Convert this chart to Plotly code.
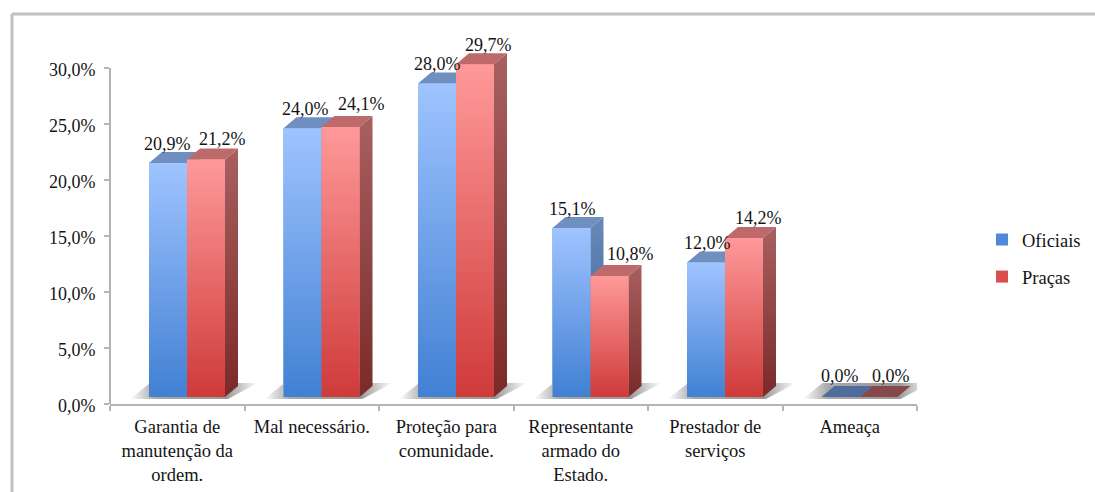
import plotly.graph_objects as go

categories = ["Garantia de<br>manutenção da<br>ordem.", "Mal necessário.", "Proteção para<br>comunidade.",
              "Representante<br>armado do<br>Estado.", "Prestador de<br>serviços", "Ameaça"]
oficiais = [20.9, 24.0, 28.0, 15.1, 12.0, 0.0]
pracas = [21.2, 24.1, 29.7, 10.8, 14.2, 0.0]
y_ticks = [0, 5, 10, 15, 20, 25, 30]
y_tick_labels = ["0,0%", "5,0%", "10,0%", "15,0%", "20,0%", "25,0%", "30,0%"]

W, H = 1095, 492
L, R, T, B = 110, 917, 30, 404
PX_X = (R - L) / 6
PX_Y = 11.2
y_top = (B - T) / PX_Y
bw = 38 / PX_X
depth_x = 13 / PX_X
depth_y = 11 / PX_Y
floor = 7 / PX_Y
off_b = -0.21
off_r = off_b + bw

FONT = "Liberation Serif"
TXT = "#141414"
AX = "#b4b4b4"
BORDER = "#c0c0c0"

def poly(xs, ys, scale=None, orient="vertical", color=None):
    kw = dict(x=xs + xs[:1], y=ys + ys[:1], mode="lines", line=dict(width=0),
              fill="toself", hoverinfo="skip", showlegend=False, cliponaxis=False)
    if scale:
        kw["fillgradient"] = dict(type=orient, colorscale=scale)
        kw["fillcolor"] = "rgba(0,0,0,0)"
    else:
        kw["fillcolor"] = color
    return go.Scatter(**kw)

fig = go.Figure()

# real bars carry the values and the legend
for name, vals, off, col in [("Oficiais", oficiais, off_b, "#4f8ad8"), ("Praças", pracas, off_r, "#d94f4f")]:
    fig.add_trace(go.Bar(x=list(range(6)), y=vals, base=floor, name=name, width=bw, offset=off,
                         marker=dict(color=col, line=dict(width=0)), legendgroup=name, cliponaxis=False))

# floor shadows
SHADOW = [[0, "#ffffff"], [0.2, "#a8a8a8"], [0.75, "#989898"], [1, "#ffffff"]]
for i in range(6):
    x0 = i + off_b
    x1 = i + off_r + bw
    fig.add_trace(poly([x0 - 19 / PX_X, x0 + 1 / PX_X, x1 + 33 / PX_X, x1 + 3 / PX_X],
                       [floor - 2 / PX_Y, floor + 14 / PX_Y, floor + 14 / PX_Y, floor - 2 / PX_Y],
                       scale=SHADOW, orient="horizontal"))

STY = {
    "b": dict(front=("#4180d3", "#9fc4ff"), side=("#2c5a96", "#6a8ab8"), top="#6f8fc0", zero="#4f6d9c"),
    "r": dict(front=("#cf3a3a", "#ff9999"), side=("#7a2a28", "#a86060"), top="#bf6a6a", zero="#86484a"),
}

for vals, off, key in [(oficiais, off_b, "b"), (pracas, off_r, "r")]:
    s = STY[key]
    for i, v in enumerate(vals):
        x0, x1 = i + off, i + off + bw
        y0, y1 = floor, floor + v
        fig.add_trace(poly([x0, x1, x1 + depth_x, x0 + depth_x],
                           [y1, y1, y1 + depth_y, y1 + depth_y],
                           color=s["top"] if v > 0 else s["zero"]))
        if v > 0:
            fig.add_trace(poly([x1, x1 + depth_x, x1 + depth_x, x1],
                               [y0, y0 + depth_y, y1 + depth_y, y1],
                               scale=[[0, s["side"][0]], [1, s["side"][1]]]))
            fig.add_trace(poly([x0, x1, x1, x0], [y0, y0, y1, y1],
                               scale=[[0, s["front"][0]], [1, s["front"][1]]]))

# data labels
shift_b = [-1, 3, 0, 1, 1, -1]
shift_r = [16, 21, 13, 21, 14, 12]
lift_b = [19, 19, 19, 19, 20, 21]
lift_r = [21, 23, 19, 22, 20, 21]
for vals, off, sh, lf in [(oficiais, off_b, shift_b, lift_b), (pracas, off_r, shift_r, lift_r)]:
    for i, v in enumerate(vals):
        fig.add_annotation(x=i + off + bw / 2, y=floor + v, text=f"{v:.1f}%".replace(".", ","),
                           showarrow=False, xshift=sh[i], yshift=lf[i], yanchor="middle",
                           font=dict(family=FONT, size=18, color=TXT))

pw, ph = R - L, B - T
fig.update_layout(
    width=W, height=H, autosize=False,
    margin=dict(l=L, r=W - R, t=T, b=H - B, pad=0, autoexpand=False),
    paper_bgcolor="white", plot_bgcolor="white",
    barmode="overlay",
    font=dict(family=FONT, size=18, color=TXT),
    xaxis=dict(range=[-0.5, 5.5], tickmode="array", tickvals=list(range(6)),
               ticktext=categories, ticks="", ticklabelstandoff=5, automargin=False,
               tickfont=dict(family=FONT, size=18.5, color=TXT),
               showgrid=False, zeroline=False, showline=True, linecolor=AX, linewidth=2,
               minor=dict(tickmode="array", tickvals=[i - 0.5 for i in range(7)], ticks="outside",
                          ticklen=5, tickcolor=AX, tickwidth=2, showgrid=False)),
    yaxis=dict(range=[0, y_top], tickmode="array", tickvals=y_ticks, ticktext=y_tick_labels,
               ticks="outside", ticklen=5, tickcolor=AX, tickwidth=2, ticklabelstandoff=5,
               ticklabelshift=2, automargin=False,
               tickfont=dict(family=FONT, size=18, color=TXT),
               showgrid=False, zeroline=False, showline=False),
    showlegend=True,
    legend=dict(x=(982 - L) / pw, y=(B - 221) / ph, xanchor="left", yanchor="top", tracegroupgap=10,
                font=dict(family=FONT, size=18.5, color=TXT), bgcolor="rgba(0,0,0,0)", itemwidth=30),
    shapes=[
        dict(type="line", xref="paper", yref="y", x0=0, x1=0, y0=0, y1=30, line=dict(color=AX, width=2)),
        dict(type="line", xref="paper", yref="paper", x0=(12 - L) / pw, x1=(12 - L) / pw,
             y0=(B - H) / ph, y1=(B - 14) / ph, line=dict(color=BORDER, width=3)),
        dict(type="line", xref="paper", yref="paper", x0=(12 - L) / pw, x1=(W - L) / pw,
             y0=(B - 14) / ph, y1=(B - 14) / ph, line=dict(color=BORDER, width=3)),
    ],
)
fig.write_html("out.html", config={"displayModeBar": False}, post_script="document.body.style.margin='0';")
